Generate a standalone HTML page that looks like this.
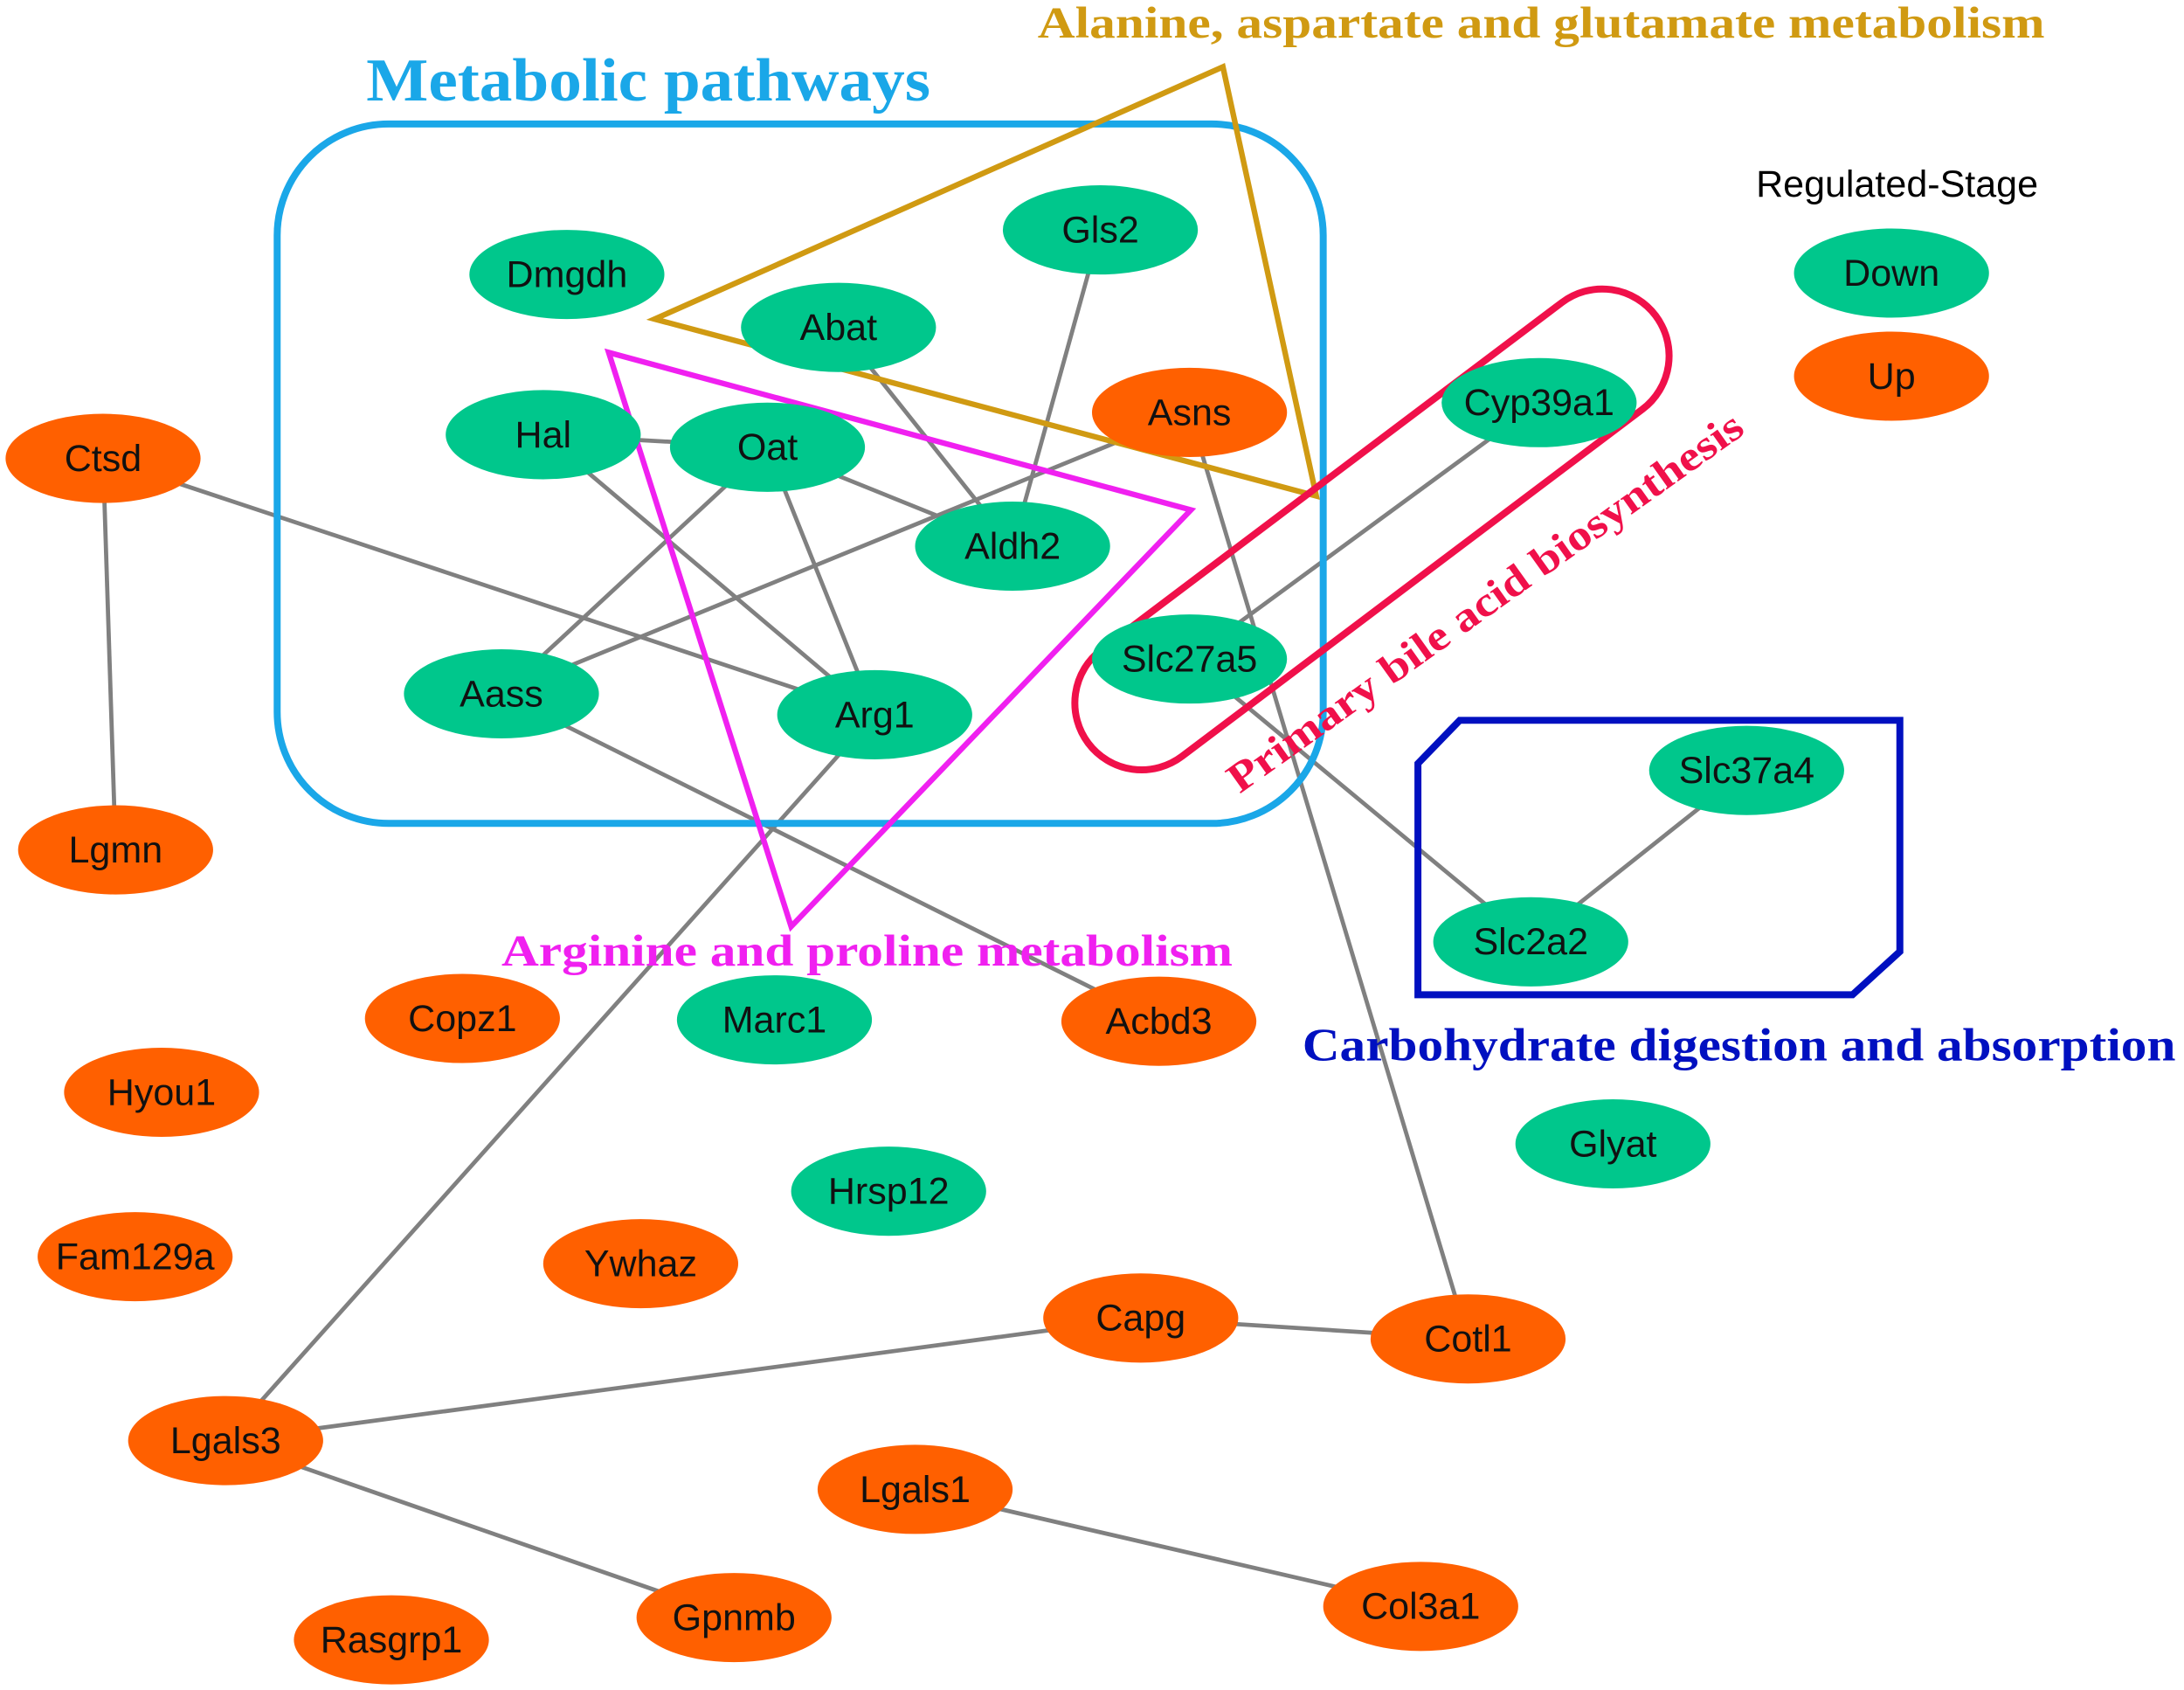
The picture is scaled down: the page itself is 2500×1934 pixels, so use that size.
<!DOCTYPE html>
<html><head><meta charset="utf-8"><style>html,body{margin:0;padding:0;background:#fff}svg{display:block}</style></head>
<body>
<svg width="2500" height="1934" viewBox="0 0 1568 1213" xmlns="http://www.w3.org/2000/svg">
<rect width="1568" height="1213" fill="#fff"/>
<g stroke="#808080" stroke-width="3">
<line x1="74" y1="329" x2="83" y2="610"/>
<line x1="74" y1="329" x2="628" y2="513"/>
<line x1="790" y1="165" x2="727" y2="392"/>
<line x1="602" y1="235" x2="727" y2="392"/>
<line x1="390" y1="312" x2="551" y2="321"/>
<line x1="390" y1="312" x2="628" y2="513"/>
<line x1="551" y1="321" x2="727" y2="392"/>
<line x1="551" y1="321" x2="360" y2="498"/>
<line x1="551" y1="321" x2="628" y2="513"/>
<line x1="854" y1="296" x2="360" y2="498"/>
<line x1="854" y1="296" x2="1054" y2="961"/>
<line x1="1105" y1="289" x2="854" y2="473"/>
<line x1="854" y1="473" x2="1099" y2="676"/>
<line x1="1254" y1="553" x2="1099" y2="676"/>
<line x1="360" y1="498" x2="832" y2="733"/>
<line x1="628" y1="513" x2="162" y2="1034"/>
<line x1="162" y1="1034" x2="819" y2="946"/>
<line x1="819" y1="946" x2="1054" y2="961"/>
<line x1="162" y1="1034" x2="527" y2="1161"/>
<line x1="657" y1="1069" x2="1020" y2="1153"/>
</g>
<rect x="199" y="89" width="751" height="502" rx="80" fill="none" stroke="#1aa7e8" stroke-width="5"/>
<polygon points="470,229 878,48 945,356" fill="none" stroke="#d09a12" stroke-width="4"/>
<polygon points="437,253 855,366 568,665" fill="none" stroke="#f020f0" stroke-width="4"/>
<rect x="-255" y="-48" width="510" height="96" rx="48" transform="translate(985,380) rotate(-37)" fill="none" stroke="#f0104a" stroke-width="5"/>
<polygon points="1018,548 1048,517 1364,517 1364,683 1330,714 1018,714" fill="none" stroke="#0010c0" stroke-width="5"/>
<g font-family="Liberation Serif, serif" font-weight="bold" lengthAdjust="spacingAndGlyphs">
<text x="263" y="72" font-size="44" fill="#1aa7e8" textLength="405" lengthAdjust="spacingAndGlyphs">Metabolic pathways</text>
<text x="745" y="27" font-size="32" fill="#d09a12" textLength="723" lengthAdjust="spacingAndGlyphs">Alanine, aspartate and glutamate metabolism</text>
<text x="360" y="693" font-size="32" fill="#f020f0" textLength="525" lengthAdjust="spacingAndGlyphs">Arginine and proline metabolism</text>
<text x="935" y="761" font-size="33" fill="#0010c0" textLength="627" lengthAdjust="spacingAndGlyphs">Carbohydrate digestion and absorption</text>
<text x="0" y="0" font-size="30" fill="#f0104a" transform="translate(890,570) rotate(-35.5)" textLength="447" lengthAdjust="spacingAndGlyphs">Primary bile acid biosynthesis</text>
</g>
<text x="1362" y="141" font-family="Liberation Sans, sans-serif" font-size="27" text-anchor="middle" fill="#000">Regulated-Stage</text>
<g font-family="Liberation Sans, sans-serif" font-size="27" text-anchor="middle" fill="#111">
<g fill="#00c78c">
<ellipse cx="407" cy="197" rx="70" ry="32"/><ellipse cx="790" cy="165" rx="70" ry="32"/>
<ellipse cx="602" cy="235" rx="70" ry="32"/><ellipse cx="390" cy="312" rx="70" ry="32"/>
<ellipse cx="551" cy="321" rx="70" ry="32"/><ellipse cx="1105" cy="289" rx="70" ry="32"/>
<ellipse cx="727" cy="392" rx="70" ry="32"/><ellipse cx="854" cy="473" rx="70" ry="32"/>
<ellipse cx="360" cy="498" rx="70" ry="32"/><ellipse cx="628" cy="513" rx="70" ry="32"/>
<ellipse cx="1254" cy="553" rx="70" ry="32"/><ellipse cx="1099" cy="676" rx="70" ry="32"/>
<ellipse cx="556" cy="732" rx="70" ry="32"/><ellipse cx="1158" cy="821" rx="70" ry="32"/>
<ellipse cx="638" cy="855" rx="70" ry="32"/><ellipse cx="1358" cy="196" rx="70" ry="32"/>
</g>
<g fill="#ff6000">
<ellipse cx="854" cy="296" rx="70" ry="32"/><ellipse cx="74" cy="329" rx="70" ry="32"/>
<ellipse cx="83" cy="610" rx="70" ry="32"/><ellipse cx="332" cy="731" rx="70" ry="32"/>
<ellipse cx="832" cy="733" rx="70" ry="32"/><ellipse cx="116" cy="784" rx="70" ry="32"/>
<ellipse cx="97" cy="902" rx="70" ry="32"/><ellipse cx="460" cy="907" rx="70" ry="32"/>
<ellipse cx="819" cy="946" rx="70" ry="32"/><ellipse cx="1054" cy="961" rx="70" ry="32"/>
<ellipse cx="162" cy="1034" rx="70" ry="32"/><ellipse cx="657" cy="1069" rx="70" ry="32"/>
<ellipse cx="1020" cy="1153" rx="70" ry="32"/><ellipse cx="281" cy="1177" rx="70" ry="32"/>
<ellipse cx="527" cy="1161" rx="70" ry="32"/><ellipse cx="1358" cy="270" rx="70" ry="32"/>
</g>
<text x="407" y="206">Dmgdh</text><text x="790" y="174">Gls2</text><text x="602" y="244">Abat</text>
<text x="390" y="321">Hal</text><text x="551" y="330">Oat</text><text x="1105" y="298">Cyp39a1</text>
<text x="727" y="401">Aldh2</text><text x="854" y="482">Slc27a5</text><text x="360" y="507">Aass</text>
<text x="628" y="522">Arg1</text><text x="1254" y="562">Slc37a4</text><text x="1099" y="685">Slc2a2</text>
<text x="556" y="741">Marc1</text><text x="1158" y="830">Glyat</text><text x="638" y="864">Hrsp12</text>
<text x="1358" y="205">Down</text>
<text x="854" y="305">Asns</text><text x="74" y="338">Ctsd</text><text x="83" y="619">Lgmn</text>
<text x="332" y="740">Copz1</text><text x="832" y="742">Acbd3</text><text x="116" y="793">Hyou1</text>
<text x="97" y="911">Fam129a</text><text x="460" y="916">Ywhaz</text><text x="819" y="955">Capg</text>
<text x="1054" y="970">Cotl1</text><text x="162" y="1043">Lgals3</text><text x="657" y="1078">Lgals1</text>
<text x="1020" y="1162">Col3a1</text><text x="281" y="1186">Rasgrp1</text><text x="527" y="1170">Gpnmb</text>
<text x="1358" y="279">Up</text>
</g>
</svg>
</body></html>
